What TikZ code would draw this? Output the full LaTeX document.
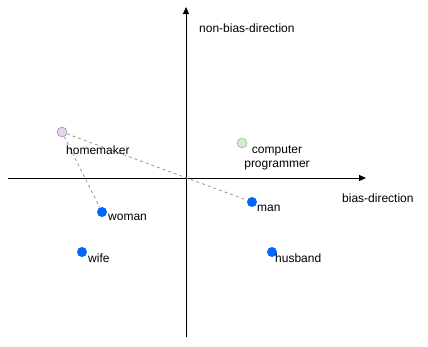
\documentclass[tikz,border=0pt]{standalone}
\usepackage{fontspec}
\setmainfont{Liberation Sans}
\usetikzlibrary{arrows.meta}
\definecolor{dotblue}{HTML}{0066FF}
\definecolor{purfill}{HTML}{E1D5E7}
\definecolor{purline}{HTML}{9673A6}
\definecolor{grnfill}{HTML}{D5E8D4}
\definecolor{grnline}{HTML}{82B366}
\tikzset{
  axis/.style={line width=1pt, -{Triangle[length=7pt,width=6pt]}},
  word/.style={circle, fill=dotblue, inner sep=0pt, minimum size=10pt},
  ring/.style={circle, draw, inner sep=0pt, minimum size=10pt},
  lbl/.style={anchor=west, inner sep=0pt, font=\fontsize{12pt}{14pt}\selectfont},
  link/.style={draw=gray!80, line width=0.8pt, dash pattern=on 3pt off 3pt}
}
\begin{document}
\begin{tikzpicture}[x=1pt,y=-1pt]
\useasboundingbox (0,0) rectangle (428,346);
\coordinate (xl) at (8,178);
\coordinate (xr) at (366,178);
\coordinate (yb) at (186,337);
\coordinate (yt) at (186,7);
\draw[axis] (xl) -- (xr);
\draw[axis] (yb) -- (yt);
\node[lbl] (nbd) at (199,28) {non-bias-direction};
\node[lbl] (bd) at (342,198) {bias-direction};

\node[ring, fill=purfill, draw=purline] (home) at (62,132) {};
\node[ring, fill=grnfill, draw=grnline] (comp) at (242,143) {};
\node[word] (woman) at (102,212) {};
\node[word] (man) at (252,202) {};
\node[word] (wife) at (82,252) {};
\node[word] (husband) at (272,252) {};

\draw[link] (home) -- (woman);
\draw[link] (home) -- (man);

\node[lbl] (homel) at (66,150) {homemaker};
\node[lbl, anchor=center, align=center] (compl) at (277,158) {computer\\programmer};
\node[lbl] (womanl) at (108,217) {woman};
\node[lbl] (manl) at (257,208) {man};
\node[lbl] (wifel) at (88,258) {wife};
\node[lbl] (husbandl) at (275,258) {husband};
\end{tikzpicture}
\end{document}
